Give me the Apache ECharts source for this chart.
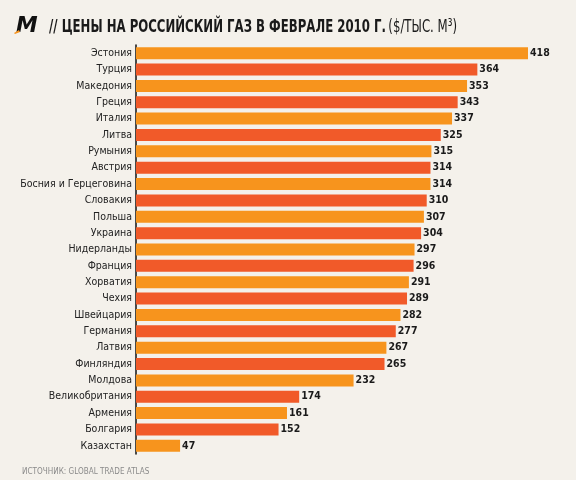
<!DOCTYPE html>
<html>
<head>
    <meta charset="utf-8">
    <title>Цены на российский газ</title>
    <script src="https://cdn.jsdelivr.net/npm/echarts@6/dist/echarts.min.js"></script>
    <style>
        *{margin: 0;padding: 0;}
        body{background: #f4f1eb;}
    </style>
</head>
<body>
    <div id="main" style="width: 576px;height:480px;"></div>
    <script type="text/javascript">
        // данные
        var countries = ['Эстония', 'Турция', 'Македония', 'Греция', 'Италия', 'Литва', 'Румыния',
            'Австрия', 'Босния и Герцеговина', 'Словакия', 'Польша', 'Украина', 'Нидерланды',
            'Франция', 'Хорватия', 'Чехия', 'Швейцария', 'Германия', 'Латвия', 'Финляндия',
            'Молдова', 'Великобритания', 'Армения', 'Болгария', 'Казахстан'];
        var prices = [418, 364, 353, 343, 337, 325, 315, 314, 314, 310, 307, 304, 297,
            296, 291, 289, 282, 277, 267, 265, 232, 174, 161, 152, 47];
        var colors = ['#f7941d', '#f15a29'];

        var font = '"DejaVu Sans Condensed", "Liberation Sans Narrow", sans-serif';

        var myChart = echarts.init(document.getElementById('main'));

        var option = {
            backgroundColor: '#f4f1eb',
            animation: false,
            graphic: [
                {
                    type: 'text', x: 16, y: 15, scaleX: 1.1,
                    style: { text: 'M', font: 'italic bold 22px ' + font, fill: '#111' }
                },
                {
                    type: 'polygon', shape: { points: [[14, 33], [19, 30], [20, 32], [15, 34]] },
                    style: { fill: '#f7941d' }
                },
                {
                    type: 'text', x: 49, y: 18, scaleX: 0.725,
                    style: {
                        rich: {
                            b: { font: 'bold 18px ' + font, fill: '#1a1a1a' },
                            n: { font: '18px ' + font, fill: '#1a1a1a' }
                        },
                        text: '{b|// ЦЕНЫ НА РОССИЙСКИЙ ГАЗ В ФЕВРАЛЕ 2010 Г.} {n|($/ТЫС. М³)}'
                    }
                },
                {
                    type: 'text', x: 22, y: 467, scaleX: 0.9,
                    style: { text: 'ИСТОЧНИК: GLOBAL TRADE ATLAS', font: '9px ' + font, fill: '#8a8a8a' }
                }
            ],
            grid: { left: 136, top: 45, width: 392, height: 409 },
            xAxis: {
                type: 'value', min: 0, max: 418,
                show: false
            },
            yAxis: {
                type: 'category',
                inverse: true,
                data: countries,
                axisLine: { show: true, lineStyle: { color: '#111', width: 1.5 } },
                axisTick: { show: false },
                axisLabel: { color: '#222', fontFamily: font, fontSize: 10.5, margin: 4 }
            },
            series: [{
                type: 'bar',
                data: prices.map(function (v, i) {
                    return { value: v, itemStyle: { color: colors[i % 2] } };
                }),
                barWidth: 12,
                label: {
                    show: true, position: 'right', distance: 2,
                    color: '#1a1a1a', fontFamily: font, fontWeight: 'bold', fontSize: 10.5
                }
            }]
        };

        myChart.setOption(option);
    </script>
</body>
</html>
